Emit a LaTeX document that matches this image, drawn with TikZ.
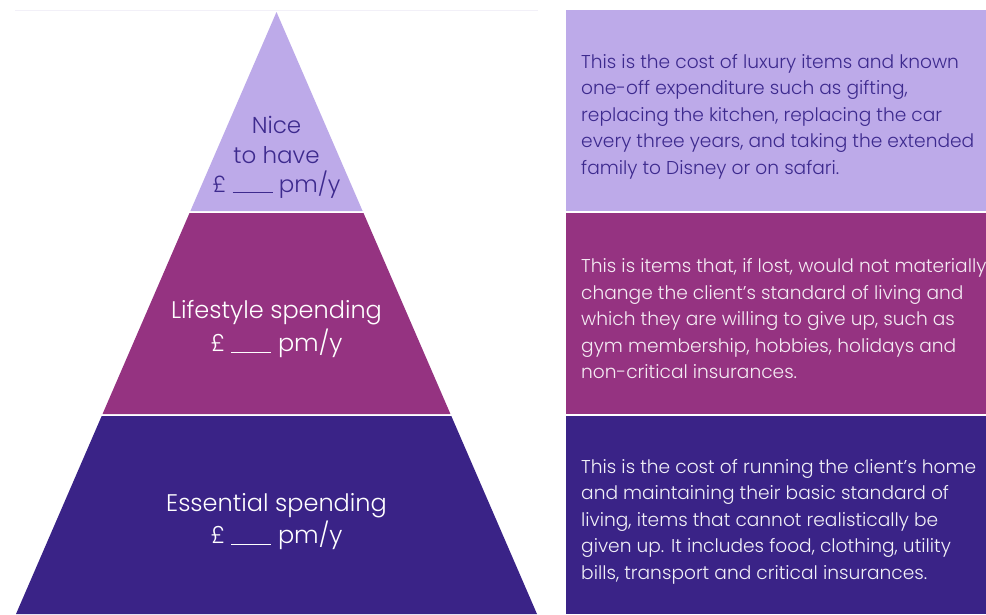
\documentclass[tikz,border=0pt]{standalone}
\usepackage{fontspec}
\setmainfont{Poppins}[UprightFont=* Light]
\usetikzlibrary{calc}
\definecolor{lavender}{HTML}{BDAAE9}
\definecolor{plum}{HTML}{953381}
\definecolor{indigo}{HTML}{3A2387}
\definecolor{inkdark}{HTML}{3D2A8E}
\definecolor{paleline}{HTML}{F2F0F8}
% blank for the amount, drawn as one continuous line
\newcommand{\amountblank}{\rule[-0.8pt]{40pt}{1pt}}
\tikzset{
  tiertext/.style={align=center, inner sep=0pt},
  desc/.style={align=left, anchor=west, inner sep=0pt,
    font=\fontsize{18.6}{26.5}\selectfont},
}
\begin{document}
\begin{tikzpicture}[x=1pt,y=-1pt]
\useasboundingbox (0,0) rectangle (986,614);
\fill[white] (0,0) rectangle (986,614);
% thin rule above the pyramid
\draw[paleline, line width=0.8pt] (15,10.5) -- (538,10.5);
% pyramid corners
\coordinate (apex) at (276.5,12);
\coordinate (bl) at (16,614);
\coordinate (br) at (537,614);
% tiers of the pyramid, with narrow white gaps between them
\fill[lavender] (apex) -- ($(apex)!0.3306!(br)$) -- ($(apex)!0.3306!(bl)$) -- cycle;
\fill[plum] ($(apex)!0.3339!(bl)$) -- ($(apex)!0.3339!(br)$)
  -- ($(apex)!0.6678!(br)$) -- ($(apex)!0.6678!(bl)$) -- cycle;
\fill[indigo] ($(apex)!0.6711!(bl)$) -- ($(apex)!0.6711!(br)$)
  -- (br) -- (bl) -- cycle;
% description panels
\fill[lavender] (566,10) rectangle (986,211);
\fill[plum] (566,213) rectangle (986,414);
\fill[indigo] (566,416) rectangle (986,614);
% tier labels
\node[tiertext, text=inkdark, font=\fontsize{23}{29.5}\selectfont] (nice) at (276.5,157.5)
  {Nice\\to have\\£ \amountblank{} pm/y};
\node[tiertext, text=white, font=\fontsize{24}{33}\selectfont] (life) at (276.5,329.5)
  {Lifestyle spending\\£ \amountblank{} pm/y};
\node[tiertext, text=white, font=\fontsize{24}{32}\selectfont] (ess) at (276.5,522)
  {Essential spending\\£ \amountblank{} pm/y};
% descriptions
\node[desc, text=inkdark] (nicedesc) at (581,116.5)
  {This is the cost of luxury items and known\\
   one-off expenditure such as gifting,\\
   replacing the kitchen, replacing the car\\
   every three years, and taking the extended\\
   family to Disney or on safari.};
\node[desc, text=white!90!plum] (lifedesc) at (581,319)
  {This is items that, if lost, would not materially\\
   change the client’s standard of living and\\
   which they are willing to give up, such as\\
   gym membership, hobbies, holidays and\\
   non-critical insurances.};
\node[desc, text=white!93!indigo] (essdesc) at (581,521.5)
  {This is the cost of running the client’s home\\
   and maintaining their basic standard of\\
   living, items that cannot realistically be\\
   given up. It includes food, clothing, utility\\
   bills, transport and critical insurances.};
\end{tikzpicture}
\end{document}
